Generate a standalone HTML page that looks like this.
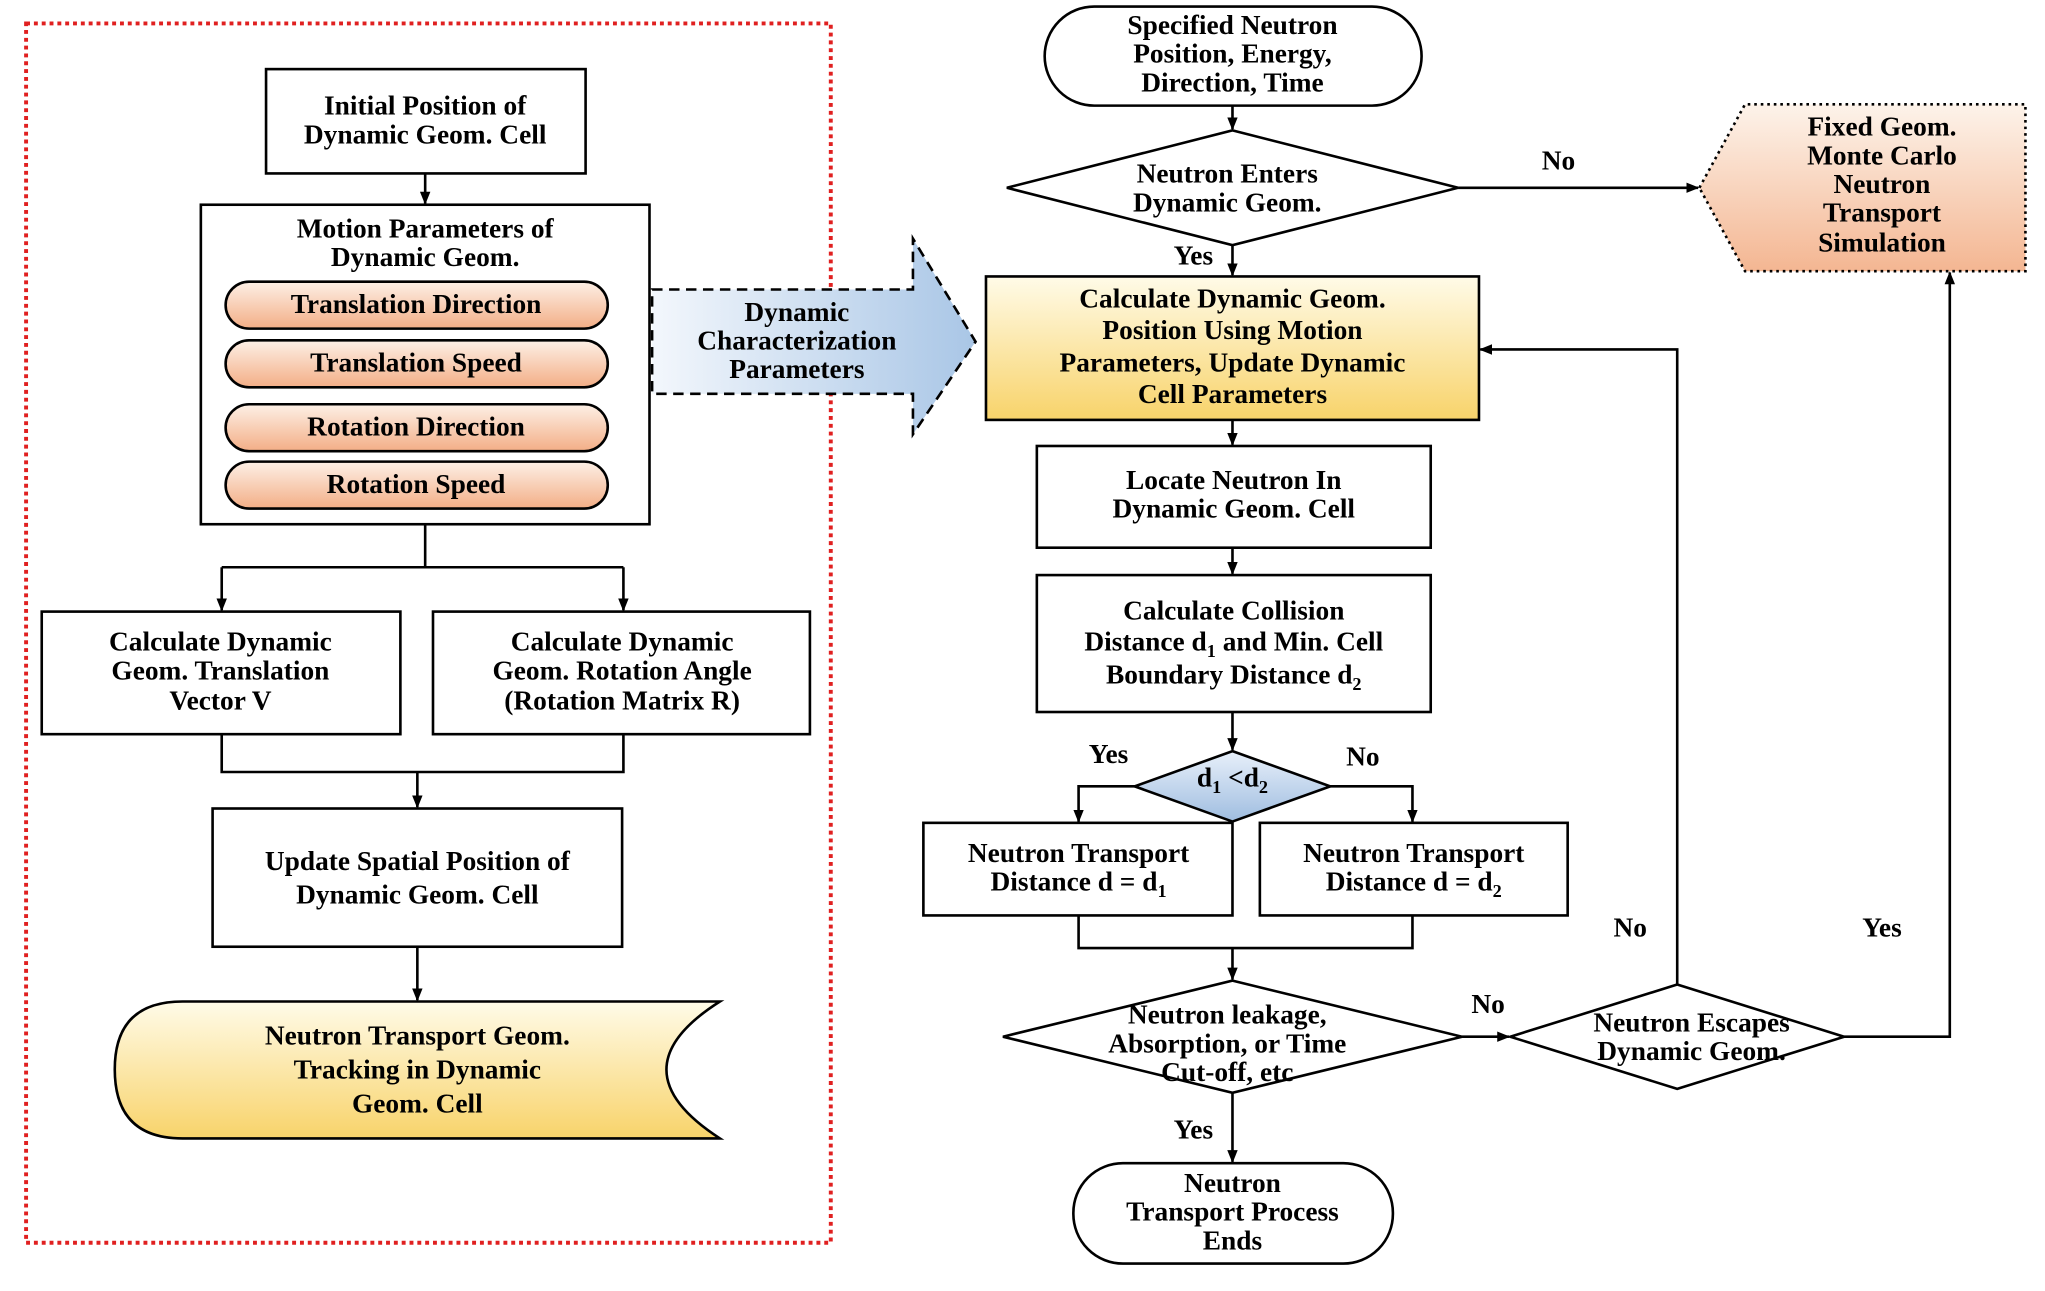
<!DOCTYPE html>
<html><head><meta charset="utf-8"><style>html,body{margin:0;padding:0;background:#fff}svg{display:block}</style></head><body>
<svg width="2045" height="1291" viewBox="0 0 1568 990" preserveAspectRatio="none" xmlns="http://www.w3.org/2000/svg">
<defs>
<linearGradient id="pk" x1="0" y1="0" x2="0" y2="1"><stop offset="0" stop-color="#fdf0e6"/><stop offset="1" stop-color="#f3ae86"/></linearGradient>
<linearGradient id="pk2" x1="0" y1="0" x2="0" y2="1"><stop offset="0" stop-color="#fdf3ea"/><stop offset="1" stop-color="#f4b692"/></linearGradient>
<linearGradient id="yl" x1="0" y1="0" x2="0" y2="1"><stop offset="0" stop-color="#fffbe8"/><stop offset="1" stop-color="#f8d36a"/></linearGradient>
<linearGradient id="bl" x1="0" y1="0" x2="1" y2="0"><stop offset="0" stop-color="#f3f7fc"/><stop offset="1" stop-color="#a9c6e6"/></linearGradient>
<linearGradient id="bl2" x1="0" y1="0" x2="0" y2="1"><stop offset="0" stop-color="#e8f0fa"/><stop offset="1" stop-color="#9fbde0"/></linearGradient>
<marker id="ar" markerWidth="10" markerHeight="10" refX="9" refY="5" orient="auto" markerUnits="userSpaceOnUse"><path d="M0,1 L10,5 L0,9 Z" fill="#000"/></marker>
</defs>
<g font-family="Liberation Serif, serif" font-weight="bold" font-size="21" text-anchor="middle" fill="#000">
<rect x="20" y="18" width="617" height="935" fill="none" stroke="#e02020" stroke-width="3" stroke-dasharray="3,3"/>
<g fill="#fff" stroke="#000" stroke-width="2">
<rect x="204" y="53" width="245" height="80"/>
<rect x="154" y="157" width="344" height="245"/>
<rect x="32" y="469" width="275" height="94"/>
<rect x="332" y="469" width="289" height="94"/>
<rect x="163" y="620" width="314" height="106"/>
<rect x="801" y="5" width="289" height="76" rx="38"/>
<rect x="795" y="342" width="302" height="78"/>
<rect x="795" y="441" width="302" height="105"/>
<rect x="708" y="631" width="237" height="71"/>
<rect x="966" y="631" width="236" height="71"/>
<rect x="823" y="892" width="245" height="77" rx="38"/>
<polygon points="945,100 1118,144 945,188 772,144"/>
<polygon points="945,752 1121,795 945,838 769,795"/>
<polygon points="1286,755 1414,795 1286,835 1158,795"/>
</g>
<g stroke="#000" stroke-width="2" fill="url(#pk)">
<rect x="173" y="216" width="293" height="36" rx="18"/>
<rect x="173" y="261" width="293" height="36" rx="18"/>
<rect x="173" y="310" width="293" height="36" rx="18"/>
<rect x="173" y="354" width="293" height="36" rx="18"/>
</g>
<path d="M140,768 L552,768 Q470,820 552,873 L140,873 Q88,873 88,820 Q88,768 140,768 Z" fill="url(#yl)" stroke="#000" stroke-width="2"/>
<path d="M500,222 L700,222 L700,183 L748,262 L700,333 L700,302 L500,302 Z" fill="url(#bl)" stroke="#000" stroke-width="2" stroke-dasharray="8,5"/>
<polygon points="1303,144 1338,80 1553,80 1553,208 1338,208" fill="url(#pk2)" stroke="#000" stroke-width="2" stroke-dasharray="2,3"/>
<rect x="756" y="212" width="378" height="110" fill="url(#yl)" stroke="#000" stroke-width="2"/>
<polygon points="945,576 1020,603 945,630 870,603" fill="url(#bl2)" stroke="#000" stroke-width="2"/>
<g stroke="#000" stroke-width="2" fill="none">
<line x1="326" y1="133" x2="326" y2="156" marker-end="url(#ar)"/>
<path d="M326,402 V435 M170,435 H478"/>
<line x1="170" y1="435" x2="170" y2="468" marker-end="url(#ar)"/>
<line x1="478" y1="435" x2="478" y2="468" marker-end="url(#ar)"/>
<path d="M170,563 V592 H478 V563"/>
<line x1="320" y1="592" x2="320" y2="619" marker-end="url(#ar)"/>
<line x1="320" y1="726" x2="320" y2="767" marker-end="url(#ar)"/>
<line x1="945" y1="81" x2="945" y2="99" marker-end="url(#ar)"/>
<line x1="1118" y1="144" x2="1302" y2="144" marker-end="url(#ar)"/>
<line x1="945" y1="188" x2="945" y2="211" marker-end="url(#ar)"/>
<line x1="945" y1="322" x2="945" y2="341" marker-end="url(#ar)"/>
<line x1="945" y1="420" x2="945" y2="440" marker-end="url(#ar)"/>
<line x1="945" y1="546" x2="945" y2="575" marker-end="url(#ar)"/>
<path d="M870,603 H827 V630" marker-end="url(#ar)"/>
<path d="M1020,603 H1083 V630" marker-end="url(#ar)"/>
<path d="M827,702 V727 H1083 V702"/>
<line x1="945" y1="727" x2="945" y2="751" marker-end="url(#ar)"/>
<line x1="1121" y1="795" x2="1157" y2="795" marker-end="url(#ar)"/>
<path d="M1286,755 V268 H1135" marker-end="url(#ar)"/>
<path d="M1414,795 H1495 V209" marker-end="url(#ar)"/>
<line x1="945" y1="838" x2="945" y2="891" marker-end="url(#ar)"/>
</g>
<text x="326" y="88">Initial Position of</text><text x="326" y="110">Dynamic Geom. Cell</text>
<text x="326" y="182">Motion Parameters of</text><text x="326" y="204">Dynamic Geom.</text>
<text x="319" y="240">Translation Direction</text>
<text x="319" y="285">Translation Speed</text>
<text x="319" y="334">Rotation Direction</text>
<text x="319" y="378">Rotation Speed</text>
<text x="169" y="499">Calculate Dynamic</text><text x="169" y="521">Geom. Translation</text><text x="169" y="544">Vector V</text>
<text x="477" y="499">Calculate Dynamic</text><text x="477" y="521">Geom. Rotation Angle</text><text x="477" y="544">(Rotation Matrix R)</text>
<text x="320" y="667">Update Spatial Position of</text><text x="320" y="693">Dynamic Geom. Cell</text>
<text x="320" y="801">Neutron Transport Geom.</text><text x="320" y="827">Tracking in Dynamic</text><text x="320" y="853">Geom. Cell</text>
<text x="611" y="246">Dynamic</text><text x="611" y="268">Characterization</text><text x="611" y="290">Parameters</text>
<text x="945" y="26">Specified Neutron</text><text x="945" y="48">Position, Energy,</text><text x="945" y="70">Direction, Time</text>
<text x="941" y="140">Neutron Enters</text><text x="941" y="162">Dynamic Geom.</text>
<text x="1195" y="130">No</text><text x="915" y="203">Yes</text>
<text x="1443" y="104">Fixed Geom.</text><text x="1443" y="126">Monte Carlo</text><text x="1443" y="148">Neutron</text><text x="1443" y="170">Transport</text><text x="1443" y="193">Simulation</text>
<text x="945" y="236">Calculate Dynamic Geom.</text><text x="945" y="260">Position Using Motion</text><text x="945" y="285">Parameters, Update Dynamic</text><text x="945" y="309">Cell Parameters</text>
<text x="946" y="375">Locate Neutron In</text><text x="946" y="397">Dynamic Geom. Cell</text>
<text x="946" y="475">Calculate Collision</text>
<text x="946" y="499">Distance d<tspan font-size="14" dy="5">1</tspan><tspan dy="-5"> and Min. Cell</tspan></text>
<text x="946" y="524">Boundary Distance d<tspan font-size="14" dy="5">2</tspan></text>
<text x="945" y="603">d<tspan font-size="14" dy="5">1</tspan><tspan dy="-5"> &lt;d</tspan><tspan font-size="14" dy="5">2</tspan></text>
<text x="850" y="585">Yes</text><text x="1045" y="587">No</text>
<text x="827" y="661">Neutron Transport</text><text x="827" y="683">Distance d = d<tspan font-size="14" dy="5">1</tspan></text>
<text x="1084" y="661">Neutron Transport</text><text x="1084" y="683">Distance d = d<tspan font-size="14" dy="5">2</tspan></text>
<text x="941" y="785">Neutron leakage,</text><text x="941" y="807">Absorption, or Time</text><text x="941" y="829">Cut-off, etc</text>
<text x="1141" y="777">No</text>
<text x="1297" y="791">Neutron Escapes</text><text x="1297" y="813">Dynamic Geom.</text>
<text x="1250" y="718">No</text><text x="1443" y="718">Yes</text>
<text x="915" y="873">Yes</text>
<text x="945" y="914">Neutron</text><text x="945" y="936">Transport Process</text><text x="945" y="958">Ends</text>
</g>
</svg>
</body></html>
